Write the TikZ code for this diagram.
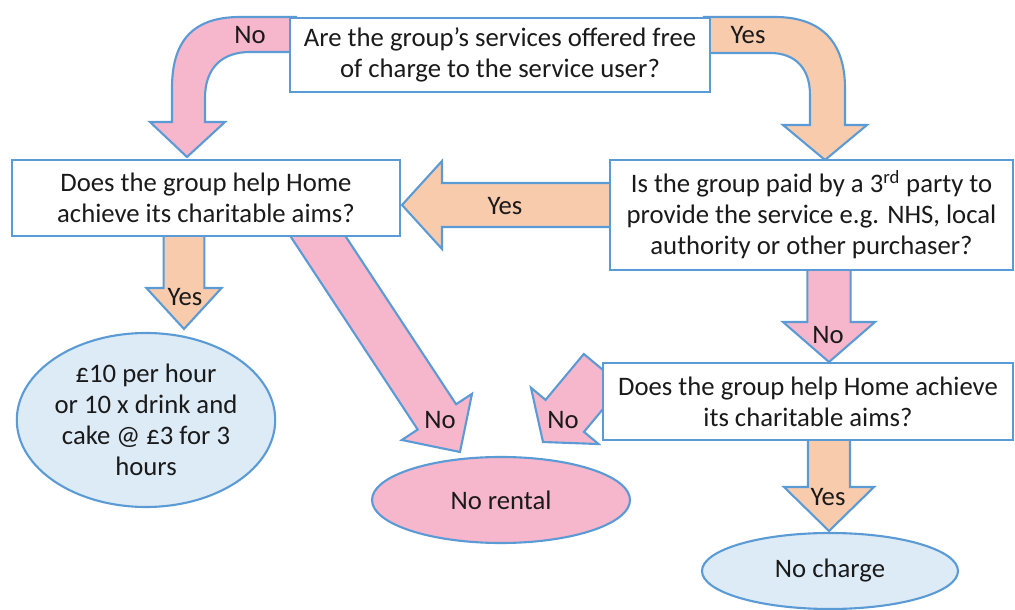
\documentclass[tikz,border=0pt]{standalone}
\usepackage{fontspec}
\setmainfont{Carlito}
\usepackage{tikz}
\usetikzlibrary{calc,backgrounds,shapes.geometric}

\definecolor{lineblue}{HTML}{5B9BD5}
\definecolor{nopink}{HTML}{F6B6CB}
\definecolor{yesorange}{HTML}{F8CBAD}
\definecolor{endblue}{HTML}{DDEBF7}
\definecolor{textgrey}{HTML}{1A1A1A}

% block arrow: style, from, to, shaft half width, head half width, head length
\newcommand{\blockarrow}[6]{%
  \path ($(#3)!#6!(#2)$) coordinate (hb);
  \draw[#1] ($(#2)!#4!90:(#3)$) -- ($(hb)!#4!-90:(#2)$) -- ($(hb)!#5!-90:(#2)$)
    -- (#3) -- ($(hb)!#5!90:(#2)$) -- ($(hb)!#4!90:(#2)$) -- ($(#2)!#4!-90:(#3)$) -- cycle;
}

\tikzset{
  question/.style={shape=rectangle, draw=lineblue, fill=white, line width=1.5pt, align=center, inner sep=0pt},
  answer/.style={shape=ellipse, draw=lineblue, line width=1.5pt, align=center, inner sep=0pt},
  noarrow/.style={draw=lineblue, fill=nopink, line width=1.5pt},
  yesarrow/.style={draw=lineblue, fill=yesorange, line width=1.5pt},
  tag/.style={inner sep=0pt}
}

\begin{document}
\begin{tikzpicture}[x=0.25mm, y=-0.25mm, font=\fontsize{19}{22}\selectfont, text=textgrey]
  \useasboundingbox (0,0) rectangle (1015,610);

  \node[question, minimum width=105mm, minimum height=18.5mm] (free) at (500,55)
    {Are the group’s services offered free\\of charge to the service user?};
  \node[question, minimum width=97mm, minimum height=19mm] (aimsA) at (206,198)
    {Does the group help Home\\achieve its charitable aims?};
  \node[question, minimum width=100.75mm, minimum height=27.5mm] (paid) at (811.5,215)
    {Is the group paid by a 3\textsuperscript{rd} party to\\provide the service e.g. NHS, local\\authority or other purchaser?};
  \node[question, minimum width=102.5mm, minimum height=19.25mm] (aimsB) at (808,401.5)
    {Does the group help Home achieve\\its charitable aims?};

  \node[answer, fill=endblue, minimum width=56.5mm, minimum height=43.5mm] (fee) at (146,420)
    {£10 per hour\\or 10 x drink and\\cake @ £3 for 3\\hours};
  \node[answer, fill=nopink, minimum width=64.5mm, minimum height=21.5mm] (norent) at (501,500) {No rental};
  \node[answer, fill=endblue, minimum width=64mm, minimum height=19mm] (nocharge) at (830,571) {No charge};

  \begin{scope}[on background layer]
    % curved arrows out of the first question
    \draw[noarrow] (296,17) -- (240,17) .. controls (192,17) and (172,42) .. (172,88)
      -- (172,122) -- (150,122) -- (187,157) -- (225,122) -- (205,122) -- (205,98)
      .. controls (205,68) and (222,52) .. (250,52) -- (296,52) -- cycle;
    \draw[yesarrow] (704,17) -- (775,17) .. controls (824,17) and (845,45) .. (845,88)
      -- (845,125) -- (867,125) -- (825,160) -- (783,125) -- (810,125) -- (810,95)
      .. controls (810,68) and (795,53) .. (770,53) -- (704,53) -- cycle;

    \blockarrow{yesarrow}{618,205}{402,205}{5.5mm}{11mm}{10mm}
    \blockarrow{yesarrow}{184,228}{184,329}{5.1mm}{9.4mm}{10.25mm}
    \blockarrow{noarrow}{304,215}{460,452}{5.75mm}{10.5mm}{10.5mm}
    \blockarrow{noarrow}{829,262}{829,362}{5.4mm}{11.5mm}{10mm}
    \blockarrow{yesarrow}{829,432}{829,531}{5.25mm}{11.25mm}{11mm}
    \blockarrow{noarrow}{603,370}{543,442}{6.25mm}{11mm}{8.5mm}
  \end{scope}

  \node[tag] (noA) at (250,35) {No};
  \node[tag] (yesA) at (748,35) {Yes};
  \node[tag] (yesB) at (505,206) {Yes};
  \node[tag] (yesC) at (185,297) {Yes};
  \node[tag] (noB) at (440,420) {No};
  \node[tag] (noC) at (828,335) {No};
  \node[tag] (noD) at (563,420) {No};
  \node[tag] (yesD) at (828,497) {Yes};
\end{tikzpicture}
\end{document}
